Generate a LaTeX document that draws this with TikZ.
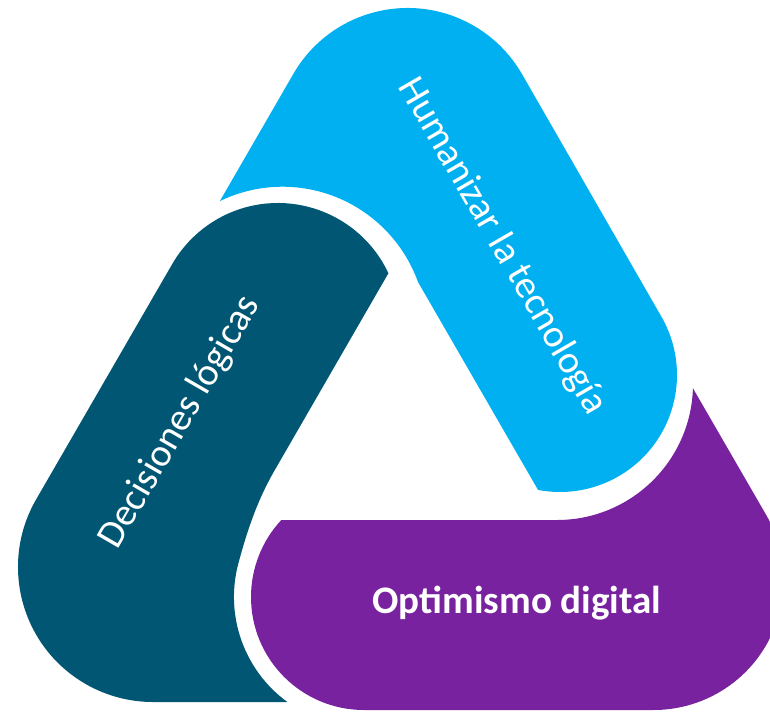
\documentclass[tikz,border=0pt]{standalone}
\usepackage{fontspec}
\setmainfont{Carlito}
\definecolor{lblue}{RGB}{0,176,240}
\definecolor{dteal}{RGB}{0,86,115}
\definecolor{purp}{RGB}{120,34,160}
\begin{document}
\begin{tikzpicture}[x=1pt,y=-1pt,
  band/.style={draw=none},
  lbl/.style={text=white,inner sep=0pt,anchor=base,font=\fontsize{39}{40}\selectfont}]
\useasboundingbox (0,0) rectangle (770,712);
\clip (0,0) rectangle (770,712);
% Humanizar la tecnologia (light blue)
\fill[band,lblue] (219.95,200.96) -- (293.3,74)
  arc[start angle=-150,end angle=-30,radius=132] -- (661.3,316.5)
  arc[start angle=-30,end angle=100.8,radius=117] -- (418,282)
  arc[start angle=-19.77,end angle=-115.7,radius=144] -- cycle;
% Decisiones logicas (dark teal)
\fill[band,dteal] (388.4,273.25)
  arc[start angle=-25.1,end angle=-150,radius=122] -- (36.1,499.5)
  arc[start angle=210,end angle=90,radius=135] -- (287.35,702)
  arc[start angle=126.1,end angle=195,radius=130]
  .. controls (247.5,529.6) and (257.3,500.3) .. (274.8,470) -- cycle;
% Optimismo digital (purple)
\fill[band,purp] (692.9,388.2) -- (766.2,515)
  arc[start angle=-30,end angle=90,radius=130] -- (364,710)
  arc[start angle=90,end angle=222.95,radius=113] -- (557,520)
  arc[start angle=90,end angle=1.77,radius=136] -- cycle;
\node[lbl,rotate=-60] (hum) at (493.25,251.7) {Humanizar la tecnología};
\node[lbl,rotate=60] (dec) at (189,427.5) {Decisiones lógicas};
\node[lbl,font=\fontsize{39}{40}\selectfont\bfseries] (opt) at (517,613) {Optimismo digital};
\end{tikzpicture}
\end{document}
